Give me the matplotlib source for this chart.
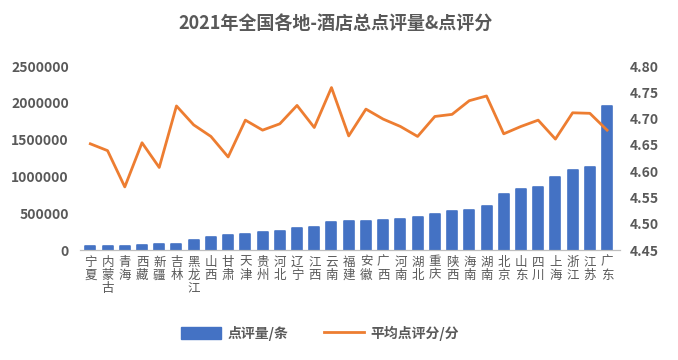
import matplotlib.pyplot as plt
import numpy as np
from matplotlib.patches import Patch
from matplotlib.lines import Line2D

plt.rcParams['font.family'] = ['Noto Sans CJK SC', 'DejaVu Sans']

# provinces, sorted by review count
provinces = ['宁夏', '内蒙古', '青海', '西藏', '新疆', '吉林', '黑龙江', '山西', '甘肃', '天津',
             '贵州', '河北', '辽宁', '江西', '云南', '福建', '安徽', '广西', '河南', '湖北',
             '重庆', '陕西', '海南', '湖南', '北京', '山东', '四川', '上海', '浙江', '江苏', '广东']

# total reviews (bars, left axis)
review_count = [60000, 60000, 60000, 62000, 80000, 85000, 136000, 181000, 200000, 217000,
                240000, 258000, 294000, 317000, 376000, 396000, 396000, 413000, 415000, 453000,
                489000, 525000, 543000, 598000, 765000, 829000, 851000, 996000, 1087000, 1123000,
                1950000]

# average score (line, right axis)
avg_score = [4.652, 4.639, 4.570, 4.654, 4.607, 4.724, 4.688, 4.666, 4.627, 4.697,
             4.678, 4.690, 4.725, 4.683, 4.759, 4.667, 4.718, 4.699, 4.685, 4.666,
             4.704, 4.708, 4.734, 4.743, 4.671, 4.685, 4.697, 4.661, 4.711, 4.710,
             4.678]

left_ticks = [0, 500000, 1000000, 1500000, 2000000, 2500000]
right_ticks = [4.45, 4.50, 4.55, 4.60, 4.65, 4.70, 4.75, 4.80]

BLUE = '#4472C4'
ORANGE = '#ED7D31'
GRAY = '#595959'

fig = plt.figure(figsize=(6.78, 3.6), dpi=100)
ax = fig.add_axes([80/678, 1 - 250/360, 540/678, 184/360])
ax2 = ax.twinx()

x = np.arange(len(provinces))
ax.bar(x, review_count, width=0.58, color=BLUE, edgecolor=BLUE, linewidth=1.2,
       joinstyle='round', zorder=2)
ax2.plot(x, avg_score, color=ORANGE, linewidth=2, zorder=3)

ax.set_ylim(0, 2500000)
ax.set_yticks(left_ticks)
ax.set_yticklabels([str(v) for v in left_ticks])
ax2.set_ylim(4.45, 4.80)
ax2.set_yticks(right_ticks)
ax2.set_yticklabels([f'{v:.2f}' for v in right_ticks])
ax.set_xlim(-0.6, 30.75)

ax.set_xticks(x)
ax.set_xticklabels(['\n'.join(p) for p in provinces], fontsize=9, color=GRAY,
                   linespacing=1.0, va='top')

for a in (ax, ax2):
    for s in ('top', 'left', 'right'):
        a.spines[s].set_visible(False)
    a.spines['bottom'].set_color('#BFBFBF')
    a.tick_params(length=0)
    for lab in a.get_yticklabels():
        lab.set_fontsize(10)
        lab.set_fontweight('bold')
        lab.set_color(GRAY)

ax.tick_params(axis='y', pad=8)
ax2.tick_params(axis='y', pad=7)
ax.tick_params(axis='x', pad=4)

fig.text(0.495, 1 - 24/360, '2021年全国各地-酒店总点评量&点评分', ha='center', va='center',
         fontsize=13, fontweight='bold', color=GRAY)

handles = [Patch(color=BLUE, label='点评量/条'),
           Line2D([0], [0], color=ORANGE, linewidth=2, label='平均点评分/分')]
leg = fig.legend(handles=handles, loc='center', bbox_to_anchor=(0.472, 1 - 333/360),
                 ncol=2, frameon=False, handlelength=2.9, handleheight=0.9,
                 columnspacing=2.5, handletextpad=0.5,
                 prop={'size': 10, 'weight': 'bold'})
for t in leg.get_texts():
    t.set_color(GRAY)

plt.savefig('out.png', dpi=100)
